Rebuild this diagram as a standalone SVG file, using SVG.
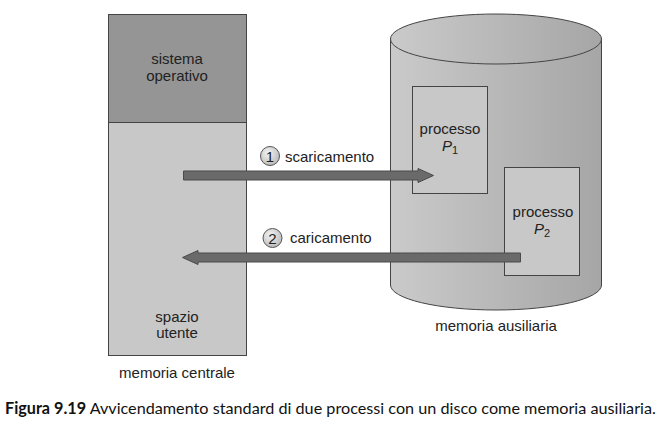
<svg xmlns="http://www.w3.org/2000/svg" width="662" height="433" viewBox="0 0 662 433">
<style>
text{font-family:"Liberation Sans",Arial,sans-serif;font-size:15px;fill:#222}
.c{text-anchor:middle}
.box{stroke:#444;stroke-width:1}
.arr{fill:#6a6a6a;stroke:#4a4a4a;stroke-width:1}
.num{stroke:#555;stroke-width:1}
.cap{font-family:Lato,"Open Sans",sans-serif;font-size:16.2px;fill:#111}
</style>
<defs>
<linearGradient id="cyl" x1="0" x2="1" y1="0" y2="0">
<stop offset="0" stop-color="#cacaca"/>
<stop offset="1" stop-color="#a6a6a6"/>
</linearGradient>
<radialGradient id="bub" cx="0.4" cy="0.35" r="0.7">
<stop offset="0" stop-color="#f4f4f4"/>
<stop offset="1" stop-color="#b8b8b8"/>
</radialGradient>
</defs>
<rect width="662" height="433" fill="#fff"/>
<g id="memoria-centrale">
<rect x="108.5" y="14.5" width="138" height="108" fill="#959595" class="box"/>
<rect x="108.5" y="122.5" width="138" height="233" fill="#c8c8c8" class="box"/>
<text class="c" x="177" y="64">sistema</text>
<text class="c" x="177" y="81">operativo</text>
<text class="c" x="177" y="322">spazio</text>
<text class="c" x="177" y="338">utente</text>
<text class="c" x="177" y="378">memoria centrale</text>
</g>
<g id="memoria-ausiliaria">
<path d="M390.5,39 L390.5,285 A105.5,25 0 0 0 601.5,285 L601.5,39 Z" fill="url(#cyl)" class="box"/>
<ellipse cx="496" cy="39" rx="105.5" ry="25" fill="url(#cyl)" class="box"/>
<text class="c" x="496" y="331">memoria ausiliaria</text>
</g>
<g id="processo-p1">
<rect x="412.5" y="86.5" width="75" height="107" fill="#c8c8c8" class="box"/>
<text class="c" x="450" y="134">processo</text>
<text x="442" y="151" font-style="italic">P<tspan font-size="11" dy="3" font-style="normal">1</tspan></text>
</g>
<g id="processo-p2">
<rect x="504.5" y="167.5" width="75" height="108" fill="#c8c8c8" class="box"/>
<text class="c" x="543" y="217">processo</text>
<text x="534" y="234" font-style="italic">P<tspan font-size="11" dy="3" font-style="normal">2</tspan></text>
</g>
<g id="connettori">
<path class="arr" d="M183.5,171 L418,171 L418,168.5 L433.5,175.5 L418,182.5 L418,180 L183.5,180 Z"/>
<path class="arr" d="M520.5,253 L198,253 L198,250.5 L182.5,257.5 L198,264.5 L198,262 L520.5,262 Z"/>
<circle class="num" cx="270" cy="156" r="9.5" fill="url(#bub)"/>
<text class="c" x="270" y="161.5" font-size="15">1</text>
<text x="285" y="162">scaricamento</text>
<circle class="num" cx="272.5" cy="238" r="9.5" fill="url(#bub)"/>
<text class="c" x="272.5" y="243.5" font-size="15">2</text>
<text x="290" y="243">caricamento</text>
</g>
<text class="cap" x="5" y="414"><tspan font-weight="bold">Figura 9.19</tspan> Avvicendamento standard di due processi con un disco come memoria ausiliaria.</text>
</svg>
